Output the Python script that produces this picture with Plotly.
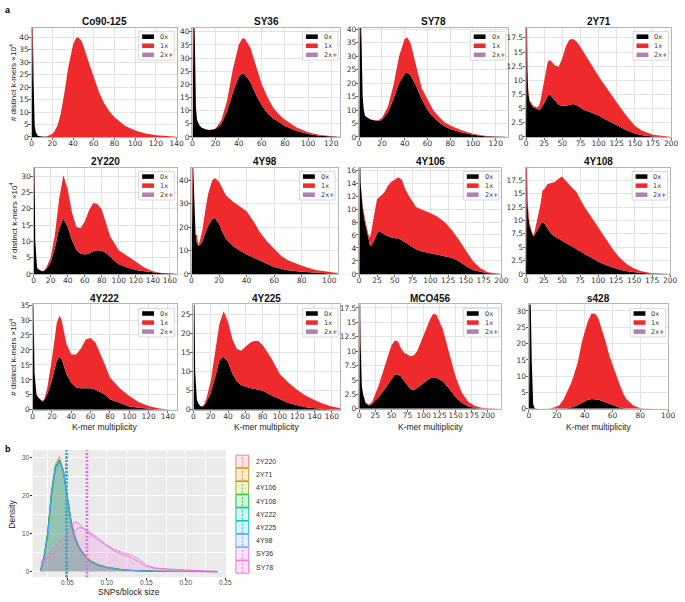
import plotly.graph_objects as go

W, H = 685, 602

# ---------------- panel a : k-mer spectra (distinct k-mers, x10^4) ----------------
CO90_X = [0, 1, 2, 3, 4, 5, 6, 8, 10, 12, 15, 18, 20, 22, 25, 28, 30, 32, 35, 38, 40, 43, 45, 48, 50,
          55, 60, 65, 70, 75, 80, 90, 100, 110, 120, 130, 140]
CO90_ZERO = [0, 50, 21, 4.5, 2, 1, 0.5, 0.3, 0.1, 0.05, 0, 0, 0, 0, 0, 0, 0, 0, 0, 0, 0, 0, 0, 0, 0,
             0, 0, 0, 0, 0, 0, 0, 0, 0, 0, 0, 0]
CO90_ONE = [50, 0, 0, 0, 0, 0, 0, 0, 0.05, 0.1, 0.3, 0.7, 1.2, 2.2, 4.6, 9, 13.5, 18.5, 27, 34, 37, 39.6, 40, 38.5, 36.5,
            30, 23.7, 18, 13.5, 10.3, 7.9, 4.5, 2.6, 1.4, 0.7, 0.3, 0.1]

SY36_X = [0, 1, 2, 3, 4, 5, 6, 8, 10, 12, 15, 20, 25, 30, 35, 40, 43, 45, 50, 55, 60, 65, 70, 75, 80,
          90, 100, 110, 120, 128]
SY36_ZERO = [0, 50, 39, 11, 6.5, 5, 4.5, 3.5, 3, 2.8, 2.7, 3, 5, 10, 17, 23, 24.2, 24, 21, 16, 12, 9, 7, 5.5, 4.2,
             2.3, 1.1, 0.5, 0.2, 0]
SY36_ONE = [50, 0, 0, 0, 0, 0, 0, 0, 0, 0, 0, 0.2, 1.5, 4, 9, 12, 13.3, 13.5, 13, 11, 8, 6, 4, 3, 2.4,
            1.3, 0.7, 0.3, 0.1, 0]

SY78_X = [0, 1, 2, 3, 4, 5, 6, 8, 10, 15, 18, 20, 25, 30, 35, 40, 42, 45, 50, 55, 60, 65, 70, 75, 80,
          90, 100, 110, 120, 131]
SY78_ZERO = [0, 50, 36, 15, 10, 8, 7.5, 7, 6.5, 6, 6, 6.5, 9, 14, 20, 23.5, 24, 23, 19, 14, 10, 7.5, 5.5, 4, 3,
             1.7, 0.8, 0.3, 0.1, 0]
SY78_ONE = [50, 0, 0, 0, 0, 0, 0, 0, 0, 0.2, 0.5, 0.6, 2, 5, 10, 13, 13, 12, 7, 4, 4, 2.5, 2, 1.5, 1.3,
            0.8, 0.4, 0.2, 0.1, 0]

Y2Y71_X = [0, 1, 2, 3, 5, 8, 10, 15, 18, 20, 25, 30, 33, 35, 40, 45, 50, 55, 60, 65, 70, 75, 80, 90, 100,
           110, 120, 130, 140, 150, 160, 175, 200]
Y2Y71_ZERO = [0, 25, 12, 8, 6.2, 5.5, 5.2, 5, 4.7, 5, 6, 7.3, 7.5, 7.2, 6.5, 5.7, 5.5, 5.5, 5.7, 5.8, 5.6, 5.2, 4.8,
              4.3, 3.8, 3.1, 2.4, 1.7, 1.1, 0.6, 0.3, 0.1, 0]
Y2Y71_ONE = [25, 0, 0, 0.5, 0.3, 0.3, 0.3, 0.2, 0.8, 1.5, 4, 6, 6.1, 6.1, 6.1, 6.7, 8.4, 10.5, 11.5, 11.5, 11.2,
             10.7, 10.0, 8.5, 6.9, 5.7, 4.6, 3.5, 2.4, 1.4, 0.8, 0.3, 0]

Y2Y220_X = [0, 1, 2, 3, 4, 5, 8, 10, 12, 15, 20, 25, 30, 35, 40, 45, 50, 55, 60, 65, 70, 75, 80, 85, 90,
            100, 110, 120, 130, 140, 150, 160, 168]
Y2Y220_ZERO = [0, 40, 10, 4, 2.2, 1.5, 1, 0.8, 0.9, 1.5, 3.5, 8, 14, 17, 14.5, 10.5, 7.5, 6.3, 6, 6.3, 7, 7.3, 7.1,
               6.5, 5.3, 3, 2, 1.2, 0.8, 0.4, 0.2, 0.1, 0]
Y2Y220_ONE = [40, 0, 0, 0, 0, 0, 0, 0.1, 0.1, 0.5, 1.5, 4, 9, 13.3, 11.5, 8.5, 7, 7.7, 10, 13.2, 14.8, 14.2, 12.7,
              9.5, 6.2, 4.3, 3.5, 2.5, 1.2, 0.4, 0.1, 0, 0]

Y4Y98_X = [0, 1, 2, 3, 4, 5, 6, 8, 10, 12, 15, 17, 20, 22, 25, 30, 35, 40, 45, 50, 55, 60, 65, 70, 80,
           90, 100, 106]
Y4Y98_ZERO = [0, 50, 33, 17, 13, 12, 12.3, 14, 17.5, 20.5, 23.5, 24, 21.5, 18.5, 15, 12, 10, 8.3, 7, 5.6, 4.2, 3.0,
              2.2, 1.6, 0.9, 0.4, 0.2, 0.1]
Y4Y98_ONE = [50, 0, 0, 0, 3.5, 0.5, 1.7, 5, 9.5, 13.5, 16.5, 17, 17.9, 18.5, 18.5, 19, 19, 18.5, 15.5, 12, 9.6, 7.6,
             5.6, 4.2, 2.6, 1.3, 0.5, 0.3]

Y4Y106_X = [0, 1, 2, 3, 5, 8, 10, 13, 15, 17, 20, 25, 28, 30, 35, 40, 45, 50, 55, 60, 65, 70, 80, 90, 100,
            110, 120, 130, 140, 150, 160, 170, 175, 180, 190, 200]
Y4Y106_ZERO = [0, 20, 14, 12, 10, 8, 7, 5.5, 4.5, 4.3, 5, 6.2, 6.6, 6.5, 6.1, 5.8, 5.6, 5.5, 5.5, 5.2, 4.8, 4.5, 3.8,
               3.4, 3.2, 3.0, 2.8, 2.5, 2.0, 1.2, 0.6, 0.3, 0.2, 0.1, 0.05, 0]
Y4Y106_ONE = [20, 0, 0, 0.5, 0.5, 0.5, 0.5, 0.5, 1.1, 2.2, 3.5, 5.3, 5.2, 5.5, 6.4, 7.7, 8.6, 9, 9.4, 9.3, 8.2, 7.5,
              6.5, 6.4, 6.2, 5.8, 5.2, 4.3, 3.3, 2.4, 1.4, 0.6, 0.4, 0.2, 0.05, 0]

Y4Y108_X = [0, 1, 2, 3, 5, 8, 10, 12, 15, 20, 23, 25, 30, 35, 40, 45, 50, 60, 70, 80, 90, 100, 110, 120, 130,
            140, 150, 160, 175, 200]
Y4Y108_ZERO = [0, 25, 13.5, 11, 9, 7.5, 7, 7.3, 8, 9.3, 9.7, 9.5, 8.5, 7.5, 7, 6.6, 6.3, 5.5, 4.6, 3.8, 3.0, 2.3,
               1.7, 1.2, 0.8, 0.5, 0.3, 0.15, 0.05, 0]
Y4Y108_ONE = [25, 0, 0, 0.5, 0.5, 0.5, 0.2, 0.7, 2, 3.7, 6, 6.3, 8.3, 9.5, 10.2, 11.2, 11.9, 11.2, 10.7, 9, 7.8, 6.3,
              4.9, 3.5, 2.2, 1.3, 0.7, 0.35, 0.05, 0]

Y4Y222_X = [0, 1, 2, 3, 4, 6, 8, 10, 12, 15, 20, 25, 28, 30, 35, 40, 45, 50, 55, 60, 65, 70, 75, 80, 90,
            100, 110, 120, 130, 140, 149]
Y4Y222_ZERO = [0, 40, 12.5, 8, 5, 4, 3.2, 2.8, 3.2, 5, 10, 16.5, 17.8, 17, 12, 9, 7.5, 7.2, 7.2, 7.2, 6.8, 6, 5,
               3.5, 2.3, 1.1, 0.7, 0.3, 0.1, 0.05, 0]
Y4Y222_ONE = [40, 0, 0, 0, 0.2, 0.2, 0.2, 0.2, 0.3, 2, 7, 12.5, 13.7, 13, 10, 9.5, 11, 13.3, 16.3, 16.8, 15.7, 13,
              10, 7.3, 4.9, 3.5, 1.8, 1.0, 0.4, 0.1, 0]

Y4Y225_X = [0, 1, 2, 3, 4, 6, 8, 10, 12, 15, 20, 25, 30, 35, 40, 45, 50, 55, 60, 65, 70, 75, 80, 90, 100,
            110, 120, 130, 140, 150, 160, 170]
Y4Y225_ZERO = [0, 35, 10, 4, 2.5, 1.5, 1, 0.8, 1, 2, 4.5, 8.5, 13, 14, 12.5, 9.5, 7.5, 6.5, 6, 5.7, 5.5, 5.3, 5,
               3.8, 2.7, 1.8, 1.2, 0.7, 0.4, 0.2, 0.1, 0]
Y4Y225_ONE = [35, 0, 0, 0, 0, 0, 0, 0.2, 0.3, 1, 3, 6.5, 9.5, 11.8, 10.5, 9, 8.5, 9, 10.5, 11.8, 12.5, 12.7, 12,
              9.7, 6.6, 5.3, 4, 3, 2.2, 1.4, 0.8, 0.4]

MCO456_X = [0, 1, 2, 3, 4, 6, 8, 10, 15, 20, 25, 30, 40, 50, 55, 60, 65, 70, 80, 85, 90, 100, 110, 115, 120,
            130, 140, 150, 160, 170, 180, 190, 200, 221]
MCO456_ZERO = [0, 25, 12, 6.5, 4, 2.5, 1.5, 1, 0.6, 0.8, 1.5, 2, 3.5, 5.2, 5.9, 6, 5.6, 4.8, 3.4, 3.3, 3.6, 4.5,
               5.3, 5.5, 5.4, 4.8, 3.5, 2, 1, 0.4, 0.15, 0.05, 0, 0]
MCO456_ONE = [25, 0, 0, 0, 0, 0, 0, 0.1, 0.1, 0.4, 1, 2, 4, 5.8, 5.9, 5.7, 4.9, 4.9, 5.7, 6, 6.4, 8.3, 10.2, 11,
              10.9, 9, 6, 3.5, 1.7, 0.8, 0.35, 0.15, 0.1, 0]

S428_X = [0, 1, 2, 3, 4, 5, 8, 10, 15, 20, 22, 25, 28, 30, 32, 35, 38, 40, 42, 45, 48, 50, 52, 55, 58,
          60, 62, 65, 68, 70, 75, 80, 90, 100]
S428_ZERO = [0, 40, 14.5, 1.5, 0.3, 0.1, 0, 0, 0, 0, 0, 0.1, 0.2, 0.4, 0.6, 1.2, 1.8, 2.3, 2.7, 3.0, 3.0, 2.8,
             2.5, 2.0, 1.4, 1.0, 0.7, 0.4, 0.2, 0.15, 0.05, 0, 0, 0]
S428_ONE = [40, 0, 0, 0, 0, 0, 0, 0, 0, 0.7, 1.2, 2.9, 5.3, 7.2, 9.4, 12.9, 18.7, 21.2, 23.8, 26.3, 26, 24.7,
            22.5, 18.7, 14.6, 12.6, 10.3, 7.2, 4.3, 2.85, 0.95, 0.2, 0.05, 0]

PANELS = [
    ("Co90-125", CO90_X, CO90_ZERO, CO90_ONE),
    ("SY36", SY36_X, SY36_ZERO, SY36_ONE),
    ("SY78", SY78_X, SY78_ZERO, SY78_ONE),
    ("2Y71", Y2Y71_X, Y2Y71_ZERO, Y2Y71_ONE),
    ("2Y220", Y2Y220_X, Y2Y220_ZERO, Y2Y220_ONE),
    ("4Y98", Y4Y98_X, Y4Y98_ZERO, Y4Y98_ONE),
    ("4Y106", Y4Y106_X, Y4Y106_ZERO, Y4Y106_ONE),
    ("4Y108", Y4Y108_X, Y4Y108_ZERO, Y4Y108_ONE),
    ("4Y222", Y4Y222_X, Y4Y222_ZERO, Y4Y222_ONE),
    ("4Y225", Y4Y225_X, Y4Y225_ZERO, Y4Y225_ONE),
    ("MCO456", MCO456_X, MCO456_ZERO, MCO456_ONE),
    ("s428", S428_X, S428_ZERO, S428_ONE),
]
LEGEND_LABELS = ["0x", "1x", "2x+"]

# axis setup per panel (pixel box l, r, t, b ; axis max ; tick steps)
BOXES = [(30, 177, 24, 135), (193, 343, 24, 135), (362, 513, 24, 135), (531, 678, 24, 135),
         (32, 177, 166, 274), (192, 340, 166, 274), (362, 506, 166, 274), (531, 677, 166, 274),
         (31, 177, 305, 412), (194, 343, 305, 412), (362, 506, 305, 411), (534, 675, 305, 411)]
X_MAX = [140, 128, 131, 200, 168, 106, 200, 200, 149, 170, 221, 100]
Y_MAX = [43.8, 41.6, 40.6, 19.3, 32.7, 45.5, 16.4, 19.9, 35.2, 27.6, 18.1, 32]
X_DTICK = [20, 20, 20, 25, 20, 20, 25, 25, 20, 20, 25, 20]
Y_DTICK = [5, 5, 5, 2.5, 5, 10, 2, 2.5, 5, 5, 2.5, 5]

# ---------------- panel b : SNP density ----------------
DENS_X = [0.016, 0.02, 0.025, 0.03, 0.035, 0.04, 0.045, 0.05, 0.055, 0.06, 0.065, 0.07, 0.075, 0.08,
          0.09, 0.10, 0.11, 0.12, 0.13, 0.14, 0.15, 0.16, 0.18, 0.20, 0.22, 0.24]
D_2Y220 = [0.3, 3.5, 10.5, 21.5, 28.5, 30.3, 26.5, 18.5, 12, 8.2, 6, 4.5, 3.3, 2.5, 1.6, 1.0, 0.7, 0.45, 0.3,
           0.2, 0.15, 0.1, 0.05, 0.03, 0.01, 0]
D_2Y71 = [0.3, 3.0, 9.5, 20.5, 27.5, 29.6, 26.8, 19.2, 12.8, 8.8, 6.5, 4.9, 3.6, 2.8, 1.8, 1.2, 0.8, 0.5, 0.35,
          0.25, 0.15, 0.1, 0.05, 0.03, 0.01, 0]
D_4Y106 = [0.3, 3.1, 9.8, 20.8, 27.6, 29.4, 26.6, 19.3, 12.9, 8.9, 6.6, 5.0, 3.6, 2.8, 1.8, 1.2, 0.8, 0.5, 0.35,
           0.25, 0.15, 0.1, 0.05, 0.03, 0.01, 0]
D_4Y108 = [0.3, 3.2, 10.0, 21.0, 27.8, 29.4, 26.4, 19.0, 12.6, 8.6, 6.3, 4.7, 3.5, 2.7, 1.7, 1.1, 0.7, 0.45, 0.3,
           0.2, 0.15, 0.1, 0.05, 0.03, 0.01, 0]
D_4Y222 = [0.3, 3.0, 9.6, 20.6, 27.6, 29.2, 26.3, 19.0, 12.7, 8.7, 6.4, 4.7, 3.4, 2.6, 1.7, 1.1, 0.7, 0.45, 0.3,
           0.2, 0.15, 0.1, 0.05, 0.03, 0.01, 0]
D_4Y225 = [0.3, 2.9, 9.3, 20.2, 27.3, 29.0, 26.4, 19.4, 13.0, 8.8, 6.3, 4.6, 3.3, 2.5, 1.6, 1.0, 0.65, 0.4, 0.3,
           0.2, 0.15, 0.1, 0.05, 0.03, 0.01, 0]
D_4Y98 = [0.3, 2.7, 8.8, 19.5, 26.8, 28.9, 26.8, 20.0, 13.4, 9.0, 6.4, 4.6, 3.3, 2.5, 1.5, 1.0, 0.6, 0.4, 0.25,
          0.2, 0.15, 0.1, 0.05, 0.03, 0.01, 0]
D_SY36 = [2.2, 2.8, 3.6, 4.5, 5.4, 6.2, 7.0, 8.2, 9.6, 10.9, 11.6, 11.4, 10.8, 10.1, 8.7, 7.0, 5.8, 5.0, 4.5,
          3.3, 1.8, 1.0, 0.6, 0.4, 0.2, 0.05]
D_SY78 = [2.7, 3.4, 4.4, 5.5, 6.6, 7.6, 8.6, 10.2, 12.0, 13.2, 12.6, 11.5, 10.6, 9.7, 8.2, 6.8, 5.4, 4.5, 3.8,
          2.6, 1.4, 0.9, 0.6, 0.4, 0.2, 0.05]
SAMPLES = ["2Y220", "2Y71", "4Y106", "4Y108", "4Y222", "4Y225", "4Y98", "SY36", "SY78"]
DENSITIES = [D_2Y220, D_2Y71, D_4Y106, D_4Y108, D_4Y222, D_4Y225, D_4Y98, D_SY36, D_SY78]
MEANS = [0.0490, 0.0493, 0.0495, 0.0491, 0.0488, 0.0484, 0.0482, 0.0740, 0.0756]
SAMPLE_COLORS = ["#F8766D", "#D39200", "#93AA00", "#00BA38", "#00C19F", "#00B9E3", "#619CFF", "#DB72FB", "#FF61C3"]

BLACK = "#000000"
RED = "#EE2A2D"
PURPLE = "#AE80B4"
TXT = "Liberation Sans, Arial, sans-serif"
TICKF = "DejaVu Sans, sans-serif"


def px_x(p):
    return p / W


def px_y(p):
    return 1 - p / H


def rgba(hexcol, a):
    h = hexcol.lstrip("#")
    return "rgba(%d,%d,%d,%s)" % (int(h[0:2], 16), int(h[2:4], 16), int(h[4:6], 16), a)


fig = go.Figure()
layout = {}
shapes = []
annotations = []

for i, (name, xs, zero, one) in enumerate(PANELS):
    k = i + 1
    sfx = "" if k == 1 else str(k)
    l, r, t, b = BOXES[i]
    fig.add_trace(go.Scatter(x=xs, y=zero, xaxis="x" + sfx, yaxis="y" + sfx, mode="lines",
                             stackgroup="g%d" % k, line=dict(width=0, color=BLACK), fillcolor=BLACK,
                             showlegend=False, hoverinfo="skip"))
    fig.add_trace(go.Scatter(x=xs, y=one, xaxis="x" + sfx, yaxis="y" + sfx, mode="lines",
                             stackgroup="g%d" % k, line=dict(width=0, color=RED), fillcolor=RED,
                             showlegend=False, hoverinfo="skip"))
    common = dict(showgrid=True, gridcolor="#e3e3e3", gridwidth=0.7, showline=True, mirror=True,
                  linecolor="#b5b5b5", linewidth=0.8, ticks="outside", ticklen=2.5, tickcolor="#666",
                  tickwidth=0.8, tickangle=0, tickfont=dict(family=TICKF, size=7.5, color="#333"),
                  zeroline=False, tick0=0)
    layout["xaxis" + sfx] = dict(domain=[px_x(l), px_x(r)], anchor="y" + sfx, range=[0, X_MAX[i]],
                                 dtick=X_DTICK[i], ticklabelstandoff=-3, **common)
    layout["yaxis" + sfx] = dict(domain=[px_y(b), px_y(t)], anchor="x" + sfx, range=[0, Y_MAX[i]],
                                 dtick=Y_DTICK[i], ticklabelstandoff=-2, **common)
    # panel title
    annotations.append(dict(text="<b>%s</b>" % name, x=px_x((l + r) / 2), y=px_y(t - 6.5), xref="paper",
                            yref="paper", showarrow=False, xanchor="center", yanchor="middle",
                            font=dict(family=TXT, size=10, color="#111")))
    # legend box
    bx1 = r - 2.5
    bx0 = bx1 - 36
    by0 = t + 4
    shapes.append(dict(type="rect", xref="paper", yref="paper", x0=px_x(bx0), x1=px_x(bx1),
                       y0=px_y(by0 + 29), y1=px_y(by0), line=dict(color="#cfcfcf", width=0.8),
                       fillcolor="white", layer="above"))
    for j, (lab, col) in enumerate(zip(LEGEND_LABELS, [BLACK, RED, PURPLE])):
        cy = by0 + 5.2 + j * 9.2
        shapes.append(dict(type="rect", xref="paper", yref="paper", x0=px_x(bx0 + 3.5), x1=px_x(bx0 + 15.5),
                           y0=px_y(cy + 2.3), y1=px_y(cy - 2.3), line=dict(width=0), fillcolor=col,
                           layer="above"))
        annotations.append(dict(text=lab, x=px_x(bx0 + 19.5), y=px_y(cy), xref="paper", yref="paper",
                                showarrow=False, xanchor="left", yanchor="middle",
                                font=dict(family=TICKF, size=6.5, color="#333")))
    if i % 4 == 0:
        annotations.append(dict(text="# distinct k-mers \u00d710<sup>4</sup>", x=px_x(11), y=px_y((t + b) / 2),
                                xref="paper", yref="paper", showarrow=False, textangle=-90,
                                xanchor="center", yanchor="middle", font=dict(family=TXT, size=8, color="#222")))
    if i >= 8:
        annotations.append(dict(text="K-mer multiplicity", x=px_x((l + r) / 2), y=px_y(429), xref="paper",
                                yref="paper", showarrow=False, xanchor="center", yanchor="middle",
                                font=dict(family=TXT, size=8.5, color="#222")))

# ---------------- panel b ----------------
bl, br, bt, bb = 31, 227, 453, 582
for s, dens, col in zip(SAMPLES, DENSITIES, SAMPLE_COLORS):
    fig.add_trace(go.Scatter(x=DENS_X, y=dens, xaxis="x13", yaxis="y13", mode="lines", fill="tozeroy",
                             fillcolor=rgba(col, 0.11), line=dict(color=col, width=0.8),
                             showlegend=False, hoverinfo="skip", name=s))
gg_axis = dict(showgrid=True, gridcolor="white", gridwidth=1, zeroline=False, showline=False,
               ticks="outside", ticklen=2, tickcolor="#333", tickwidth=0.7, tickangle=0,
               tickfont=dict(family=TXT, size=6.5, color="#4d4d4d"))
layout["xaxis13"] = dict(domain=[px_x(bl), px_x(br)], anchor="y13", range=[0.006, 0.251],
                         tickvals=[0.05, 0.10, 0.15, 0.20, 0.25], ticktext=["0.05", "0.10", "0.15", "0.20", "0.25"],
                         ticklabelstandoff=-3, **gg_axis)
layout["xaxis13"]["minor"] = dict(showgrid=True, gridcolor="white", gridwidth=0.4,
                                  tickvals=[0.025, 0.075, 0.125, 0.175, 0.225], ticks="")
layout["yaxis13"] = dict(domain=[px_y(bb), px_y(bt)], anchor="x13", range=[-1.5, 32],
                         tickvals=[0, 10, 20, 30], ticklabelstandoff=-1, **gg_axis)
layout["yaxis13"]["minor"] = dict(showgrid=True, gridcolor="white", gridwidth=0.4,
                                  tickvals=[5, 15, 25], ticks="")
shapes.append(dict(type="rect", xref="x13 domain", yref="y13 domain", x0=0, x1=1, y0=0, y1=1,
                   fillcolor="#EBEBEB", line=dict(width=0), layer="below"))
for m, col in zip(MEANS, SAMPLE_COLORS):
    shapes.append(dict(type="line", xref="x13", yref="y13 domain", x0=m, x1=m, y0=0, y1=1,
                       line=dict(color=col, width=1.4, dash="2px,1.6px"), layer="above"))

# ggplot-like legend for b
for j, (s, col) in enumerate(zip(SAMPLES, SAMPLE_COLORS)):
    ky0 = 458 + j * 13.4
    ky1 = ky0 + 12.7
    shapes.append(dict(type="rect", xref="paper", yref="paper", x0=px_x(237), x1=px_x(250),
                       y0=px_y(ky1), y1=px_y(ky0), fillcolor=rgba(col, 0.16),
                       line=dict(color=col, width=0.9)))
    shapes.append(dict(type="line", xref="paper", yref="paper", x0=px_x(243.5), x1=px_x(243.5),
                       y0=px_y(ky1 - 1), y1=px_y(ky0 + 1), line=dict(color=col, width=0.9, dash="2px,1.5px")))
    annotations.append(dict(text=s, x=px_x(255), y=px_y((ky0 + ky1) / 2), xref="paper", yref="paper",
                            showarrow=False, xanchor="left", yanchor="middle",
                            font=dict(family=TXT, size=7, color="#333")))

annotations.append(dict(text="Density", x=px_x(10), y=px_y((bt + bb) / 2), xref="paper", yref="paper",
                        showarrow=False, textangle=-90, xanchor="center", yanchor="middle",
                        font=dict(family=TXT, size=8.5, color="#222")))
annotations.append(dict(text="SNPs/block size", x=px_x((bl + br) / 2), y=px_y(596.5), xref="paper", yref="paper",
                        showarrow=False, xanchor="center", yanchor="middle",
                        font=dict(family=TXT, size=8.5, color="#222")))
annotations.append(dict(text="<b>a</b>", x=px_x(1), y=px_y(6), xref="paper", yref="paper", showarrow=False,
                        xanchor="left", yanchor="middle", font=dict(family=TXT, size=9, color="#000")))
annotations.append(dict(text="<b>b</b>", x=px_x(1), y=px_y(452), xref="paper", yref="paper", showarrow=False,
                        xanchor="left", yanchor="middle", font=dict(family=TXT, size=9, color="#000")))

fig.update_layout(width=W, height=H, margin=dict(l=0, r=0, t=0, b=0), paper_bgcolor="white",
                  plot_bgcolor="white", showlegend=False, shapes=shapes, annotations=annotations, **layout)

# drop the browser's default page margin and any scroll overflow so the figure sits at the window origin
fig.write_html("out.html", config={"displayModeBar": False},
               post_script="document.body.style.margin='0';document.body.style.padding='0';"
                           "document.body.style.overflow='hidden';"
                           "document.documentElement.style.overflow='hidden';")
